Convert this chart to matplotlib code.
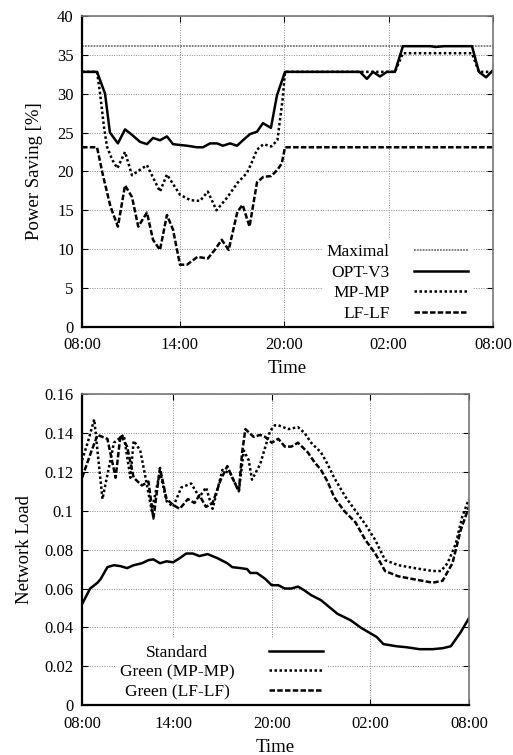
import matplotlib
matplotlib.use("Agg")
import matplotlib.pyplot as plt

plt.rcParams['font.family'] = ['Liberation Serif', 'DejaVu Serif']

# ---------------- top chart data (hours since midnight, wraps past 24) ----------------
max_value = 36.1

opt_h = [8.37, 9.23, 9.69, 9.97, 10.43, 10.84, 11.24, 11.70, 12.10, 12.45, 12.85, 13.25, 13.60,
         14.40, 14.98, 15.32, 15.73, 16.13, 16.47, 16.88, 17.28, 17.62, 18.03, 18.43, 18.77,
         19.23, 19.58, 20.04, 24.35, 24.75, 25.10, 25.50, 25.90, 26.36, 26.82, 28.40, 28.70,
         29.20, 30.79, 31.19, 31.60, 32.00]
opt_v = [32.8, 32.8, 30.0, 25.0, 23.6, 25.4, 24.7, 23.8, 23.5, 24.3, 24.0, 24.5, 23.5,
         23.3, 23.1, 23.1, 23.6, 23.6, 23.3, 23.6, 23.3, 24.0, 24.8, 25.1, 26.2,
         25.6, 29.8, 32.8, 32.8, 31.9, 32.8, 32.2, 32.8, 32.8, 36.1, 36.1, 36.0,
         36.1, 36.1, 32.8, 32.1, 33.0]

mp_h = [8.37, 9.23, 9.40, 9.63, 9.80, 10.10, 10.40, 10.84, 11.24, 11.70, 12.10, 12.85, 13.25,
        14.00, 14.60, 15.15, 15.60, 16.10, 16.70, 17.30, 17.85, 18.10, 18.43, 18.80, 19.25,
        19.60, 19.90, 20.04, 26.36, 26.82, 30.79, 31.19, 32.00]
mp_v = [32.8, 32.8, 30.1, 25.7, 23.2, 21.5, 20.4, 22.5, 19.5, 20.2, 20.8, 17.4, 19.6,
        17.0, 16.3, 16.2, 17.4, 15.0, 16.6, 18.5, 19.8, 21.0, 22.8, 23.5, 23.2,
        24.0, 29.2, 32.8, 32.8, 35.2, 35.2, 32.8, 32.8]

lf_h = [8.37, 9.23, 9.57, 10.00, 10.43, 10.84, 11.24, 11.60, 12.10, 12.45, 12.85, 13.25, 13.60,
        14.00, 14.40, 15.00, 15.60, 16.00, 16.40, 16.80, 17.30, 17.60, 18.00, 18.43, 18.80,
        19.25, 19.60, 19.85, 20.04, 32.00]
lf_v = [23.1, 23.1, 19.5, 15.5, 12.9, 18.2, 16.7, 12.9, 14.7, 11.2, 9.9, 14.4, 12.5,
        8.0, 8.0, 9.0, 8.8, 9.9, 11.2, 9.9, 14.8, 15.7, 12.9, 18.6, 19.3,
        19.4, 20.2, 21.0, 23.1, 23.1]

# ---------------- bottom chart data ----------------
std_h = [8.46, 8.95, 9.4, 9.6, 10.0, 10.4, 10.8, 11.2, 11.6, 12.1, 12.5, 12.8, 13.2, 13.6, 14.0,
         14.4, 14.8, 15.2, 15.6, 16.1, 16.7, 17.3, 17.6, 18.1, 18.5, 18.7, 19.1, 19.6, 20.0,
         20.4, 20.8, 21.2, 21.6, 22.0, 22.4, 23.0, 23.5, 24.0, 24.8, 25.4, 26.0, 26.4, 26.8,
         27.6, 28.2, 29.0, 29.8, 30.4, 30.9, 31.5, 32.0]
std_v = [.052, .060, .063, .065, .071, .072, .0715, .0705, .072, .073, .0746, .075, .073, .074, .0735,
         .0756, .078, .078, .0767, .0777, .0756, .073, .071, .0705, .070, .068, .068, .065, .0617,
         .0617, .060, .060, .061, .059, .0566, .054, .0505, .047, .0437, .040, .037, .035, .0314,
         .0303, .0298, .0288, .0288, .0293, .0303, .0375, .0447]

gmp_h = [8.46, 8.8, 9.2, 9.7, 10.4, 11.0, 11.4, 11.6, 12.0, 12.3, 12.7, 13.2, 13.6, 14.0, 14.5,
         15.1, 15.6, 16.0, 16.4, 17.0, 17.5, 18.0, 18.3, 18.6, 18.8, 19.3, 19.9, 20.2, 20.4,
         21.0, 21.6, 22.0, 22.4, 23.0, 23.4, 23.8, 24.5, 25.1, 25.7, 26.3, 26.9, 27.7, 28.7,
         29.8, 30.3, 30.7, 31.2, 31.6, 32.0]
gmp_v = [.126, .135, .147, .106, .135, .139, .117, .136, .131, .118, .100, .120, .105, .102, .112,
         .114, .107, .112, .101, .121, .119, .110, .131, .126, .116, .124, .141, .144, .144,
         .142, .143, .140, .135, .130, .124, .117, .107, .100, .093, .085, .0746, .072, .0705,
         .069, .069, .073, .083, .097, .106]

glf_h = [8.46, 9.0, 9.4, 10.0, 10.5, 10.8, 11.2, 11.6, 12.1, 12.5, 12.8, 13.2, 13.6, 14.0, 14.4,
         14.9, 15.3, 15.6, 16.0, 16.4, 16.9, 17.3, 17.6, 18.0, 18.2, 18.4, 18.9, 19.3, 19.6,
         20.0, 20.4, 20.8, 21.2, 21.6, 22.2, 22.6, 23.0, 23.4, 23.8, 24.4, 25.1, 25.7, 26.3,
         26.9, 27.7, 28.7, 29.8, 30.4, 31.0, 31.5, 32.0]
glf_v = [.117, .130, .139, .137, .117, .139, .133, .117, .113, .115, .096, .122, .106, .103, .101,
         .106, .104, .108, .102, .104, .116, .123, .117, .110, .130, .142, .138, .139, .138,
         .135, .137, .133, .133, .135, .130, .125, .121, .115, .107, .100, .094, .085, .078,
         .069, .0663, .0647, .063, .064, .073, .090, .102]

x_ticks = [14, 20, 26, 32]
x_tick_labels = ["08:00", "14:00", "20:00", "02:00", "08:00"]
top_yticks = [0, 5, 10, 15, 20, 25, 30, 35, 40]
bot_yticks = [0, 0.02, 0.04, 0.06, 0.08, 0.1, 0.12, 0.14, 0.16]
bot_ytick_labels = ["0", "0.02", "0.04", "0.06", "0.08", "0.1", "0.12", "0.14", "0.16"]

DOT = (0, (1, 1))
DASH = (0, (2.2, 0.9))
LW = 1.8
TICK_FS = 12
LABEL_FS = 13.5
LEG_FS = 12.5

fig = plt.figure(figsize=(5.13, 7.55), dpi=100)
ax1 = fig.add_axes([0.160, 0.567, 0.801, 0.412])
ax2 = fig.add_axes([0.160, 0.066, 0.754, 0.412])


def style_axes(ax, xmin):
    ax.set_xlim(xmin, 32)
    ax.set_xticks([xmin] + x_ticks)
    ax.set_xticklabels(x_tick_labels)
    ax.grid(True, color='#888888', linestyle=(0, (1, 1.5)), linewidth=0.7)
    ax.set_axisbelow(True)
    ax.tick_params(direction='in', top=True, right=True, length=4, width=0.8,
                   labelsize=TICK_FS)
    ax.tick_params(axis='x', pad=7.5)
    ax.tick_params(axis='y', pad=6)
    for s in ['left', 'bottom']:
        ax.spines[s].set_color('black')
        ax.spines[s].set_linewidth(1.6)
    for s in ['top', 'right']:
        ax.spines[s].set_color('#777777')
        ax.spines[s].set_linewidth(1.2)
    ax.set_xlabel("Time", fontsize=LABEL_FS, labelpad=5)


# ---- top ----
style_axes(ax1, 8.37)
ax1.set_ylim(0, 40)
ax1.set_yticks(top_yticks)
ax1.axhline(max_value, color='#777777', linestyle=(0, (1, 0.6)), linewidth=1.3, label='Maximal')
ax1.plot(opt_h, opt_v, color='black', linewidth=LW, label='OPT-V3')
ax1.plot(mp_h, mp_v, color='black', linewidth=LW, linestyle=DOT, label='MP-MP')
ax1.plot(lf_h, lf_v, color='black', linewidth=LW, linestyle=DASH, label='LF-LF')
ax1.set_ylabel("Power Saving [%]", fontsize=LABEL_FS, labelpad=10)
leg1 = ax1.legend(loc='lower right', bbox_to_anchor=(0.952, 0.0), markerfirst=False,
                  fontsize=LEG_FS, handlelength=3.1, handletextpad=1.4, labelspacing=0.25,
                  frameon=True, fancybox=False, framealpha=1, borderpad=0.3,
                  borderaxespad=0)
leg1.get_frame().set_edgecolor('none')
leg1.get_frame().set_facecolor('white')
leg1.set_zorder(2.4)

# ---- bottom ----
style_axes(ax2, 8.46)
ax2.set_ylim(0, 0.16)
ax2.set_yticks(bot_yticks)
ax2.set_yticklabels(bot_ytick_labels)
ax2.plot(std_h, std_v, color='black', linewidth=LW, label='Standard')
ax2.plot(gmp_h, gmp_v, color='black', linewidth=LW, linestyle=DOT, label='Green (MP-MP)')
ax2.plot(glf_h, glf_v, color='black', linewidth=LW, linestyle=DASH, label='Green (LF-LF)')
ax2.set_ylabel("Network Load", fontsize=LABEL_FS, labelpad=8)
leg2 = ax2.legend(loc='lower right', bbox_to_anchor=(0.636, 0.0), markerfirst=False,
                  fontsize=LEG_FS, handlelength=3.1, handletextpad=2.0, labelspacing=0.2,
                  frameon=True, fancybox=False, framealpha=1, borderpad=0.3,
                  borderaxespad=0)
leg2.get_frame().set_edgecolor('none')
leg2.get_frame().set_facecolor('white')
leg2.set_zorder(2.4)

# centre the bottom legend labels over a common column (as in the reference):
# widen the text-to-handle gap of shorter rows by half their width deficit
try:
    fig.canvas.draw()
    r = fig.canvas.get_renderer()
    texts = leg2.get_texts()
    widths = [t.get_window_extent(r).width for t in texts]
    wmax = max(widths)
    rows = leg2._legend_handle_box.get_children()[0].get_children()
    px_per_pt = fig.dpi / 72.0
    for row, w in zip(rows, widths):
        row.sep = row.sep + (wmax - w) / 2.0 / px_per_pt
except Exception:
    pass

fig.savefig("out.png", dpi=100)
